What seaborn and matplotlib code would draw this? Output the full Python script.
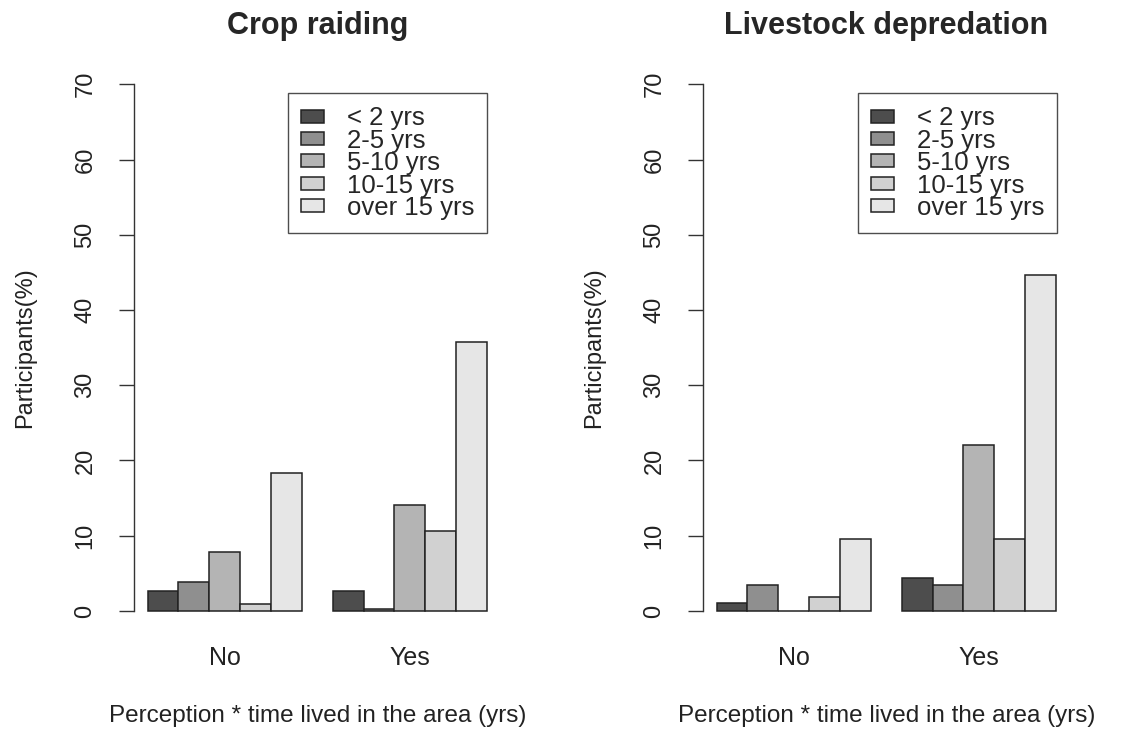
import matplotlib
matplotlib.use("Agg")
import matplotlib.pyplot as plt
import seaborn as sns
import pandas as pd

# data
perception = ["No", "Yes"]
durations = ["< 2 yrs", "2-5 yrs", "5-10 yrs", "10-15 yrs", "over 15 yrs"]
crop_no = [2.6, 3.8, 7.9, 0.9, 18.4]
crop_yes = [2.6, 0.3, 14.1, 10.6, 35.7]
livestock_no = [1.0, 3.4, 0.0, 1.8, 9.6]
livestock_yes = [4.4, 3.4, 22.0, 9.6, 44.7]
titles = ["Crop raiding", "Livestock depredation"]

greys = ["#4D4D4D", "#8F8F8F", "#B4B4B4", "#D1D1D1", "#E6E6E6"]


def to_frame(no_vals, yes_vals):
    rows = []
    for p, vals in zip(perception, [no_vals, yes_vals]):
        for d, v in zip(durations, vals):
            rows.append({"Perception": p, "Duration": d, "Value": v})
    return pd.DataFrame(rows)


sns.set_style("white")
plt.rcParams["font.family"] = ["Liberation Sans", "DejaVu Sans"]

fig = plt.figure(figsize=(11.26, 7.32), dpi=100)
axes = [fig.add_axes([0.119, 0.1366, 0.3256, 0.777]),
        fig.add_axes([0.6243, 0.1366, 0.3256, 0.777])]

frames = [to_frame(crop_no, crop_yes), to_frame(livestock_no, livestock_yes)]
legend_right = [0.963, 0.966]

for ax, df, title, lr in zip(axes, frames, titles, legend_right):
    sns.barplot(data=df, x="Perception", y="Value", hue="Duration",
                hue_order=durations, order=perception, palette=greys,
                width=5 / 6, edgecolor="#222222", linewidth=1.1,
                saturation=1, ax=ax, errorbar=None)
    ax.set_xlim(-0.49, 1.49)
    ax.set_ylim(-2.8, 72.8)
    ax.set_yticks(range(0, 71, 10))
    ax.tick_params(axis="y", labelrotation=90, length=11, width=1,
                   color="#333333", labelsize=17, pad=16, left=True,
                   labelcolor="#222222")
    ax.tick_params(axis="x", length=0, labelsize=18, pad=10,
                   labelcolor="#222222")
    for lab in ax.get_yticklabels():
        lab.set_va("center")
    for s in ["top", "right", "bottom"]:
        ax.spines[s].set_visible(False)
    ax.spines["left"].set_bounds(0, 70)
    ax.spines["left"].set_color("#333333")
    ax.spines["left"].set_linewidth(1)
    ax.set_title(title, fontsize=22, fontweight="bold", pad=21)
    ax.set_ylabel("Participants(%)", fontsize=17, color="#222222")
    ax.yaxis.label.set_va("center")
    ax.yaxis.set_label_coords(-0.297, 0.5)
    ax.set_xlabel("Perception * time lived in the area (yrs)", fontsize=17.5,
                  color="#222222")
    ax.xaxis.set_label_coords(0.5, -0.128)
    leg = ax.legend(loc="upper right", bbox_to_anchor=(lr, 0.947),
                    fontsize=18.5, frameon=True, fancybox=False,
                    labelspacing=-0.06, handlelength=0.9, handleheight=0.4,
                    handletextpad=0.9, borderpad=0.5, borderaxespad=0)
    leg.get_frame().set_edgecolor("#222222")
    leg.get_frame().set_linewidth(1)

fig.savefig("out.png", dpi=100)
